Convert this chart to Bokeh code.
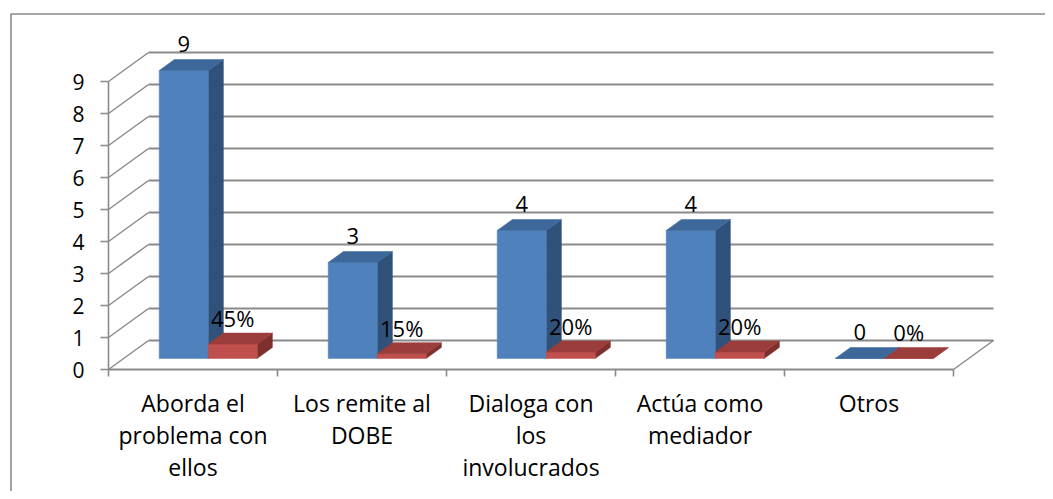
from bokeh.plotting import figure
from bokeh.models import FixedTicker, Range1d
from bokeh.embed import file_html
from bokeh.resources import INLINE
from bokeh.core.properties import value

# ---------------- data ----------------
categories = ["Aborda el\nproblema con\nellos", "Los remite al\nDOBE",
              "Dialoga con\nlos\ninvolucrados", "Actúa como\nmediador", "Otros"]
counts = [9, 3, 4, 4, 0]
percents = [45, 15, 20, 20, 0]
y_ticks = [0, 1, 2, 3, 4, 5, 6, 7, 8, 9]

# ---------------- layout (pixels -> data) ----------------
W, H = 1045, 491
PXX, PXY = 169.0, 32.0          # pixels per category / per unit
OX, OY = 108.0, 369.0           # canvas position of (x=-0.5, y=0)
x_start = -0.5 - OX / PXX
x_end = x_start + W / PXX
y_end = OY / PXY
y_start = y_end - H / PXY

DX, DY = 40 / PXX, 29 / PXY     # depth of the 3D box
BF, BB = 0.38, 0.76             # depth fractions of bar front / back
BW = 49 / PXX                   # bar width

GRID = "#8a8a8a"
FONT = "Open Sans"

p = figure(width=W, height=H, x_range=Range1d(x_start, x_end),
           y_range=Range1d(y_start, y_end), output_backend="svg",
           toolbar_location=None, min_border=0)
p.xgrid.visible = False
p.ygrid.visible = False
p.outline_line_color = None
p.background_fill_color = "white"
p.border_fill_color = "white"

# outer chart border (left and top edges; the rest is cropped away)
bl = x_start + 10.5 / PXX
bt = y_end - 13.5 / PXY
p.line(x=[bl, bl, x_end + 1], y=[y_start - 1, bt, bt],
       line_color="#8a8a8a", line_width=1.6)

n = len(categories)
lo, hi = -0.5, n - 0.5

# back wall gridlines
p.segment(x0=[lo + DX] * len(y_ticks), y0=[t + DY for t in y_ticks],
          x1=[hi + DX] * len(y_ticks), y1=[t + DY for t in y_ticks],
          line_color=GRID, line_width=1.8)
# left wall diagonals
p.segment(x0=[lo] * len(y_ticks), y0=y_ticks,
          x1=[lo + DX] * len(y_ticks), y1=[t + DY for t in y_ticks],
          line_color=GRID, line_width=1.5)
# floor right edge
p.segment(x0=[hi], y0=[0], x1=[hi + DX], y1=[DY], line_color=GRID, line_width=1.5)


def draw_bars(vals, offset_left, c_front, c_top, c_side):
    fl, fr, fb, ft = [], [], [], []
    tx, ty, sx, sy = [], [], [], []
    for i, v in enumerate(vals):
        L = i + offset_left
        R = L + BW
        fx, fy = BF * DX, BF * DY
        bx, by = BB * DX, BB * DY
        fl.append(L + fx); fr.append(R + fx); fb.append(fy); ft.append(fy + v)
        tx.append([L + fx, R + fx, R + bx, L + bx])
        ty.append([fy + v, fy + v, by + v, by + v])
        sx.append([R + fx, R + bx, R + bx, R + fx])
        sy.append([fy, by, by + v, fy + v])
    p.patches(sx, sy, fill_color=c_side, line_color=c_side, line_width=0.5)
    p.quad(left=fl, right=fr, bottom=fb, top=ft, fill_color=c_front,
           line_color=c_front, line_width=0.5)
    p.patches(tx, ty, fill_color=c_top, line_color=c_top, line_width=0.5)


draw_bars(counts, -BW, "#4F81BD", "#3D6899", "#30527A")
draw_bars([v / 100 for v in percents], 0.0, "#C0504D", "#9B3D3A", "#7E302E")

# data labels
lab_dy = BF * DY + 26 / PXY
p.text(x=[i - BW / 2 + BF * DX for i in range(n)],
       y=[v + lab_dy for v in counts],
       text=[str(v) for v in counts],
       text_align="center", text_baseline="middle",
       text_font=value(FONT), text_font_size="22px", text_color="black")
p.text(x=[i + BW / 2 + BF * DX for i in range(n)],
       y=[v / 100 + lab_dy for v in percents],
       text=[f"{v}%" for v in percents],
       text_align="center", text_baseline="middle",
       text_font=value(FONT), text_font_size="22px", text_color="black")

# y axis on the front-left edge
ya = p.yaxis[0]
ya.fixed_location = lo
ya.bounds = (0, 9)
ya.ticker = FixedTicker(ticks=y_ticks)
ya.axis_line_color = GRID
ya.axis_line_width = 1.6
ya.major_tick_line_color = GRID
ya.major_tick_line_width = 1.6
ya.major_tick_out = 8
ya.major_tick_in = 0
ya.minor_tick_line_color = None
ya.major_label_standoff = 16
ya.major_label_text_font = FONT
ya.major_label_text_font_size = "21px"
ya.major_label_text_color = "black"

# x axis on the front floor edge
xa = p.xaxis[0]
xa.fixed_location = 0
xa.bounds = (lo, hi)
xa.ticker = FixedTicker(ticks=list(range(n)),
                        minor_ticks=[i - 0.5 for i in range(n + 1)])
xa.major_label_overrides = {i: c for i, c in enumerate(categories)}
xa.axis_line_color = GRID
xa.axis_line_width = 1.8
xa.major_tick_line_color = None
xa.major_tick_out = 0
xa.major_tick_in = 0
xa.minor_tick_line_color = GRID
xa.minor_tick_line_width = 1.6
xa.minor_tick_out = 7
xa.minor_tick_in = 0
xa.major_label_standoff = 10
xa.major_label_text_font = FONT
xa.major_label_text_font_size = "23px"
xa.major_label_text_line_height = 1.0
xa.major_label_text_color = "black"

open("out.html", "w").write(file_html(p, INLINE))
